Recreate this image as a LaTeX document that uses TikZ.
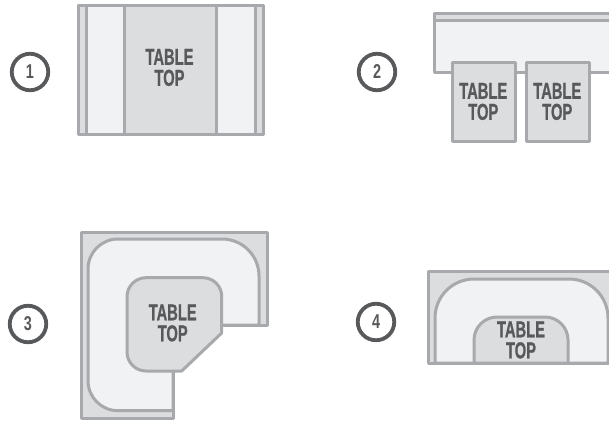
\documentclass[tikz,border=0pt]{standalone}
\usepackage{fontspec}
\setmainfont{Liberation Sans}
\newfontfamily\narrowface[FakeStretch=0.64,BoldFont={Liberation Sans Bold},BoldFeatures={FakeStretch=0.64,FakeBold=0.8}]{Liberation Sans}
\newfontfamily\numfont[FakeStretch=0.72,BoldFont={Liberation Sans Bold},BoldFeatures={FakeStretch=0.72}]{Liberation Sans}
\definecolor{edgegray}{HTML}{A7A9AC}
\definecolor{topgray}{HTML}{DCDDDE}
\definecolor{seatlight}{HTML}{F1F2F4}
\definecolor{inkgray}{HTML}{58595B}
\tikzset{
  x=1pt,y=-1pt,
  edgeline/.style={draw=edgegray,line width=3pt,line join=round},
  base/.style={edgeline,fill=topgray},
  seat/.style={edgeline,fill=seatlight},
  toptext/.style={text=inkgray,align=center,inner sep=0pt,font=\narrowface\bfseries\fontsize{23}{21}\selectfont},
  badge/.style={circle,draw=inkgray,line width=3.8pt,fill=white,minimum size=36.5pt,inner sep=0pt,text=inkgray,font=\numfont\bfseries\fontsize{20}{20}\selectfont},
}
\begin{document}
\begin{tikzpicture}
\useasboundingbox (0,0) rectangle (609,420);
% panel 1
\draw[base] (78.5,6) rectangle (263.5,134);
\draw[seat] (86,6) rectangle (255.7,134);
\draw[base] (124,6) rectangle (216.7,134);
\draw[edgeline] (78.5,6) rectangle (263.5,134);
\node[toptext] (t1) at (169.5,67.5) {TABLE\\TOP};
\node[badge] (b1) at (30,72) {1};
% panel 2
\begin{scope}
\clip (0,0) rectangle (609,420);
\draw[seat] (434,14) rectangle (620,72);
\draw[base] (434,14) rectangle (620,21);
\end{scope}
\draw[base] (452,62.5) rectangle (515,141);
\draw[base] (526,62.5) rectangle (589,141);
\node[toptext] (t2a) at (483.3,101.5) {TABLE\\TOP};
\node[toptext] (t2b) at (557.3,101.5) {TABLE\\TOP};
\node[badge] (b2) at (377,72) {2};
% panel 3
\draw[base] (81,232) -- (267,232) -- (267,325) -- (173,325) -- (173,418) -- (81,418) -- cycle;
\draw[seat] (173,410.7) -- (118,410.7) arc[start angle=90,end angle=180,radius=30] -- (88,269) arc[start angle=180,end angle=270,radius=30] -- (222,239) arc[start angle=-90,end angle=0,radius=37] -- (259,325) -- (215,325) -- (173,371) -- cycle;
\draw[base] (146,277.7) -- (203,277.7) arc[start angle=-90,end angle=0,radius=18.7] -- (221.7,333) -- (181.7,371) -- (146,371) arc[start angle=90,end angle=180,radius=19] -- (127,296.7) arc[start angle=180,end angle=270,radius=19] -- cycle;
\node[toptext] (t3) at (172.7,323) {TABLE\\TOP};
\node[badge] (b3) at (28,324) {3};
% panel 4
\begin{scope}
\clip (0,0) rectangle (609,420);
\draw[base] (428,271.7) rectangle (620,363);
\draw[seat] (435,363) -- (435,318) arc[start angle=180,end angle=270,radius=39] -- (569,279) arc[start angle=-90,end angle=0,radius=39] -- (608,363) -- cycle;
\draw[base] (474,363) -- (474,340) arc[start angle=180,end angle=270,radius=23] -- (545,317) arc[start angle=-90,end angle=0,radius=23] -- (568,363) -- cycle;
\draw[edgeline] (428,363) -- (620,363);
\end{scope}
\node[toptext] (t4) at (521,340) {TABLE\\TOP};
\node[badge] (b4) at (376,322) {4};
\end{tikzpicture}
\end{document}
